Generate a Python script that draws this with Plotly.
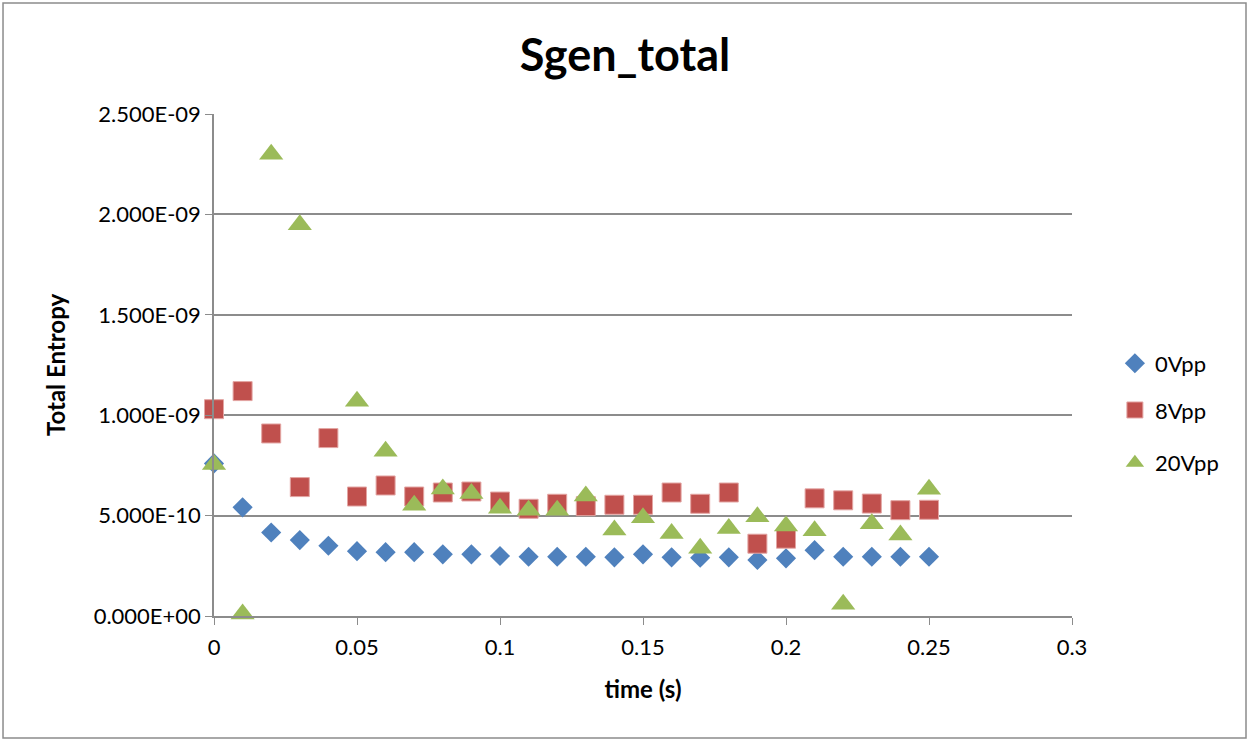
import plotly.graph_objects as go

# time samples (s)
time_s = [0.00, 0.01, 0.02, 0.03, 0.04, 0.05, 0.06, 0.07, 0.08, 0.09,
          0.10, 0.11, 0.12, 0.13, 0.14, 0.15, 0.16, 0.17, 0.18, 0.19,
          0.20, 0.21, 0.22, 0.23, 0.24, 0.25]

# total entropy per drive amplitude
s_0vpp = [7.60e-10, 5.41e-10, 4.16e-10, 3.78e-10, 3.50e-10, 3.23e-10, 3.18e-10, 3.18e-10, 3.07e-10, 3.07e-10,
          2.99e-10, 2.95e-10, 2.95e-10, 2.95e-10, 2.92e-10, 3.07e-10, 2.92e-10, 2.90e-10, 2.92e-10, 2.79e-10,
          2.87e-10, 3.28e-10, 2.95e-10, 2.95e-10, 2.95e-10, 2.95e-10]
s_8vpp = [10.30e-10, 11.20e-10, 9.09e-10, 6.42e-10, 8.86e-10, 5.95e-10, 6.50e-10, 5.95e-10, 6.15e-10, 6.20e-10,
          5.70e-10, 5.34e-10, 5.59e-10, 5.47e-10, 5.54e-10, 5.54e-10, 6.15e-10, 5.59e-10, 6.15e-10, 3.60e-10,
          3.85e-10, 5.86e-10, 5.76e-10, 5.60e-10, 5.27e-10, 5.29e-10]
s_20vpp = [7.54e-10, 0.10e-10, 22.99e-10, 19.48e-10, None, 10.70e-10, 8.20e-10, 5.52e-10, 6.32e-10, 6.10e-10,
           5.36e-10, 5.27e-10, 5.27e-10, 5.97e-10, 4.28e-10, 4.89e-10, 4.11e-10, 3.37e-10, 4.36e-10, 4.94e-10,
           4.48e-10, 4.24e-10, 0.58e-10, 4.59e-10, 4.03e-10, 6.31e-10]

series_names = ["0Vpp", "8Vpp", "20Vpp"]

y_tick_vals = [0, 5e-10, 1e-9, 1.5e-9, 2e-9, 2.5e-9]
y_tick_labels = ["0.000E+00", "5.000E-10", "1.000E-09", "1.500E-09", "2.000E-09", "2.500E-09"]
x_tick_vals = [0, 0.05, 0.1, 0.15, 0.2, 0.25, 0.3]
x_tick_labels = ["0", "0.05", "0.1", "0.15", "0.2", "0.25", "0.3"]

FONT = "Lato"
GRID = "#8c8c8c"
TICK_SIZE = 22
TITLE_SIZE = 24

fig = go.Figure()

styles = [
    dict(symbol="diamond", color="#4F81BD", size=15.5, line=dict(width=0)),
    dict(symbol="square", color="#C0504D", size=19, line=dict(width=1, color="#E3A5A3")),
    dict(symbol="triangle-up", color="#9BBB59", size=21, line=dict(width=0)),
]
legends = ["legend", "legend2", "legend3"]

for name, ys, st, lg in zip(series_names, [s_0vpp, s_8vpp, s_20vpp], styles, legends):
    fig.add_trace(go.Scatter(
        x=time_s, y=ys, mode="markers", name=name,
        marker=st, cliponaxis=False, legend=lg, showlegend=True,
    ))

legend_common = dict(
    x=1.05, xanchor="left", yanchor="middle",
    font=dict(family=FONT, size=TICK_SIZE, color="#000000"),
    bgcolor="rgba(0,0,0,0)", itemsizing="trace", visible=True,
)

fig.update_layout(
    width=1250, height=740,
    margin=dict(l=214, r=178, t=114, b=124),
    paper_bgcolor="white", plot_bgcolor="white",
    showlegend=True,
    title=dict(text="<b>Sgen_total</b>", x=0.5, xanchor="center", y=0.926, yanchor="middle",
               font=dict(family=FONT, size=45, color="#000000")),
    legend=dict(y=0.503, **legend_common),
    legend2=dict(y=0.41, **legend_common),
    legend3=dict(y=0.305, **legend_common),
    xaxis=dict(
        range=[0, 0.3], tickvals=x_tick_vals, ticktext=x_tick_labels,
        showgrid=False, zeroline=False,
        showline=True, linecolor=GRID, linewidth=1.5,
        ticks="outside", ticklen=7, tickcolor=GRID, ticklabelstandoff=4,
        tickfont=dict(family=FONT, size=TICK_SIZE, color="#000000"),
        title=dict(text="<b>time (s)</b>", font=dict(family=FONT, size=TITLE_SIZE, color="#000000"), standoff=22),
    ),
    yaxis=dict(
        range=[0, 2.5e-9], tickvals=y_tick_vals, ticktext=y_tick_labels,
        showgrid=True, gridcolor=GRID, gridwidth=1.5, zeroline=False,
        showline=True, linecolor=GRID, linewidth=1.5,
        ticks="outside", ticklen=7, tickcolor=GRID,
        tickfont=dict(family=FONT, size=TICK_SIZE, color="#000000"),
        title=dict(text="<b>Total Entropy</b>", font=dict(family=FONT, size=TITLE_SIZE, color="#000000"), standoff=21),
    ),
)

# chart-area border
fig.add_shape(type="rect", xref="paper", yref="paper",
              x0=-0.2459, x1=1.2028, y0=-0.243, y1=1.221,
              line=dict(color="#8c8c8c", width=1.5), fillcolor="rgba(0,0,0,0)", layer="below")

fig.write_html("out.html")
